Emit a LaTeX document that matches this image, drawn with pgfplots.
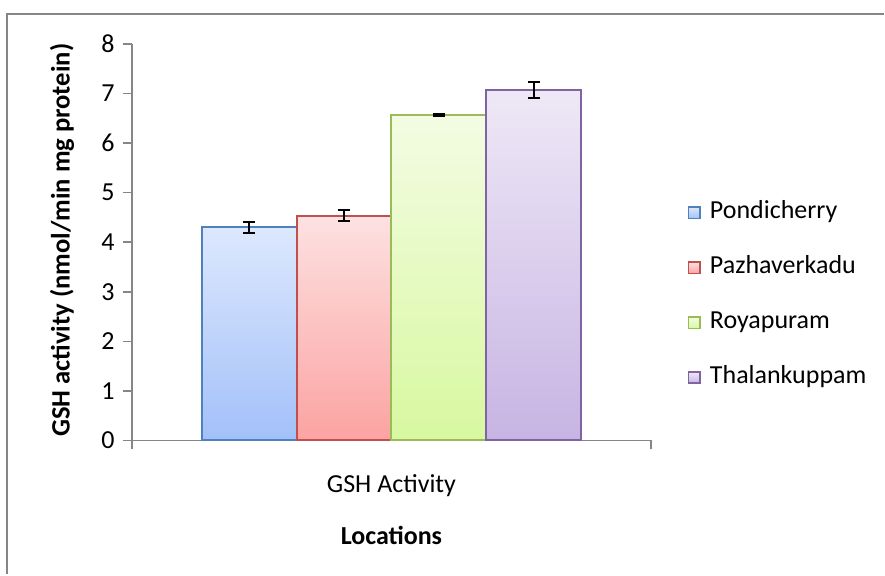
\documentclass[border=0pt]{standalone}
\usepackage{pgfplots}
\pgfplotsset{compat=1.18}
\usepackage{fontspec}
\setmainfont{Carlito}
\definecolor{axgray}{HTML}{868686}
\definecolor{bB}{HTML}{4F81BD}\definecolor{bT}{HTML}{DDE8FD}\definecolor{bD}{HTML}{A2C0F9}
\definecolor{rB}{HTML}{C0504D}\definecolor{rT}{HTML}{FDE1E1}\definecolor{rD}{HTML}{FBA3A2}
\definecolor{gB}{HTML}{9BBB59}\definecolor{gT}{HTML}{F3FCE3}\definecolor{gD}{HTML}{D8F8A0}
\definecolor{pB}{HTML}{8064A2}\definecolor{pT}{HTML}{EEE8F6}\definecolor{pD}{HTML}{C7B4E3}
\begin{document}
\begin{tikzpicture}
\path (0,0) rectangle (442.5pt,287.5pt);
\draw[axgray, line width=1pt] (3.5pt,0pt) -- (3.5pt,280.5pt) -- (442.5pt,280.5pt);
\begin{axis}[
  at={(66pt,67pt)}, anchor=south west,
  scale only axis, width=259.85pt, height=198.5pt,
  xmin=-1, xmax=1, ymin=0, ymax=8,
  ybar=0pt, bar width=47.5pt,
  axis x line*=bottom, axis y line*=left,
  axis line style={axgray, line width=0.8pt},
  tick style={axgray, line width=0.8pt},
  tick align=outside, major tick length=4.5pt,
  ytick={0,1,...,8},
  xtick={-1,1}, xticklabels={},
  extra x ticks={0}, extra x tick labels={GSH Activity},
  extra x tick style={major tick length=0pt, xticklabel style={anchor=center, yshift=-22.5pt}},
  yticklabel style={anchor=east, inner sep=0pt, xshift=-4pt},
  /pgf/number format/assume math mode=true,
  font=\fontsize{13}{15.6}\selectfont,
  ticklabel style={font=\fontsize{13}{15.6}\selectfont},
  every axis y label/.style={at={(axis description cs:-0.1347,0.505)}, rotate=90, anchor=center, font=\bfseries\fontsize{13.3}{16}\selectfont},
  every axis x label/.style={at={(axis description cs:0.5,-0.239)}, anchor=center, font=\bfseries\fontsize{13}{15.6}\selectfont},
  ylabel={GSH activity (nmol/min mg protein)},
  xlabel={Locations},
  legend style={at={(axis description cs:1.0698,0.3665)}, anchor=west, draw=none, fill=none, inner sep=0pt,
    row sep=15.5pt, font=\fontsize{13}{15.6}\selectfont,
    nodes={inner sep=0pt, text height=9pt, text depth=3pt}},
  legend cell align=left,
  legend image code/.code={\draw[#1, line width=0.9pt] (0pt,-2.9pt) rectangle (5.8pt,2.9pt);},
  /tikz/every odd column/.append style={column sep=4.5pt},
  error bars/y dir=both, error bars/y explicit,
  error bars/error bar style={black, line width=1pt},
  error bars/error mark options={black, line width=1pt, mark size=3pt, rotate=90},
]
\addplot[draw=bB, line width=1pt, top color=bT, bottom color=bD] coordinates {(0,4.30) +- (0,0.115)};
\addlegendentry{Pondicherry}
\addplot[draw=rB, line width=1pt, top color=rT, bottom color=rD] coordinates {(0,4.53) +- (0,0.11)};
\addlegendentry{Pazhaverkadu}
\addplot[draw=gB, line width=1pt, top color=gT, bottom color=gD] coordinates {(0,6.57) +- (0,0.02)};
\addlegendentry{Royapuram}
\addplot[draw=pB, line width=1pt, top color=pT, bottom color=pD] coordinates {(0,7.07) +- (0,0.165)};
\addlegendentry{Thalankuppam}
\end{axis}
\end{tikzpicture}
\end{document}
